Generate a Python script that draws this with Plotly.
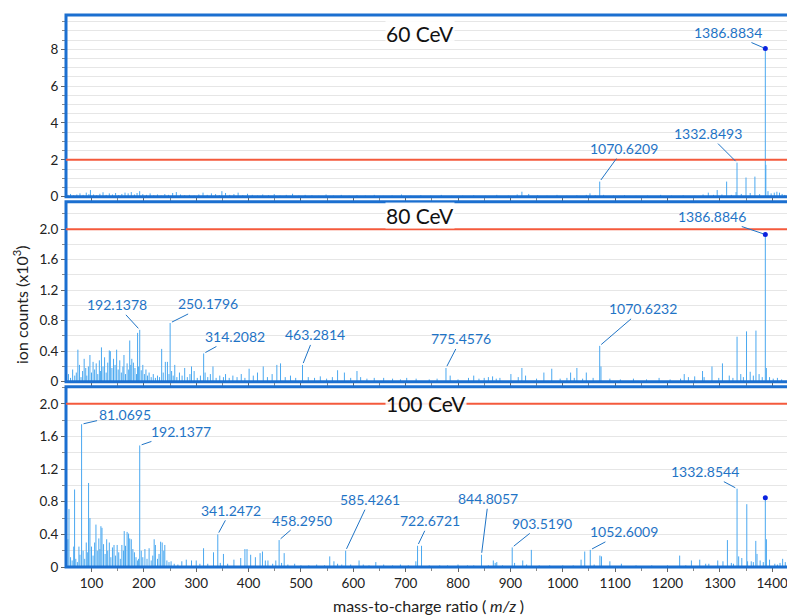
import plotly.graph_objects as go

# ---------------- data ----------------
mz_60 = [
    55, 60, 66, 72, 78, 84, 90, 95, 98, 104,
    110, 116, 122, 128, 134, 140, 146, 152, 158, 164,
    170, 176, 182, 187, 192, 198, 205, 212, 219, 226,
    233, 240, 247, 255, 262, 270, 278, 287, 296, 305,
    313, 321, 329, 337, 344, 349, 356, 364, 372, 380,
    389, 398, 407, 417, 427, 438, 449, 460, 472, 484,
    496, 508, 521, 534, 548, 562, 577, 592, 607, 623,
    640, 657, 674, 692, 710, 729, 748, 768, 788, 809,
    830, 852, 874, 896, 913, 922, 935, 952, 970, 989,
    1008, 1027, 1045, 1052, 1062, 1070.6, 1078, 1097, 1118, 1140,
    1162, 1187, 1208, 1230, 1252, 1268, 1278, 1288, 1295, 1304,
    1313, 1322, 1331, 1332.8, 1341, 1350, 1358, 1367, 1376, 1386.9,
    1387.9, 1392, 1398, 1404, 1409, 1414, 1419, 1424]
int_60 = [
    0.10, 0.15, 0.08, 0.12, 0.18, 0.10, 0.22, 0.14, 0.36, 0.12,
    0.08, 0.16, 0.24, 0.10, 0.18, 0.12, 0.20, 0.09, 0.15, 0.22,
    0.18, 0.25, 0.12, 0.20, 0.30, 0.14, 0.10, 0.18, 0.08, 0.12,
    0.06, 0.14, 0.10, 0.20, 0.25, 0.12, 0.08, 0.10, 0.06, 0.12,
    0.22, 0.10, 0.18, 0.14, 0.08, 0.30, 0.20, 0.10, 0.14, 0.22,
    0.08, 0.16, 0.10, 0.06, 0.12, 0.08, 0.14, 0.06, 0.10, 0.16,
    0.06, 0.10, 0.08, 0.05, 0.12, 0.06, 0.10, 0.05, 0.08, 0.06,
    0.10, 0.05, 0.07, 0.12, 0.05, 0.08, 0.06, 0.10, 0.05, 0.06,
    0.08, 0.05, 0.10, 0.06, 0.12, 0.27, 0.15, 0.08, 0.06, 0.10,
    0.05, 0.08, 0.10, 0.18, 0.08, 0.82, 0.10, 0.06, 0.08, 0.05,
    0.06, 0.10, 0.06, 0.08, 0.05, 0.12, 0.22, 0.10, 0.36, 0.12,
    0.82, 0.10, 0.25, 1.85, 0.15, 1.04, 0.20, 1.09, 0.14, 8.04,
    1.73, 0.30, 0.18, 0.22, 0.27, 0.22, 0.15, 0.10]

mz_80 = [
    56, 60, 64, 68, 71, 74, 77, 80, 83, 86,
    89, 91, 94, 97, 100, 103, 106, 109, 112, 115,
    117, 119, 122, 125, 128, 131, 134, 136, 139, 142,
    145, 148, 151, 154, 157, 160, 162, 165, 168, 171,
    173, 175, 177, 180, 183, 186, 188, 190, 192.1, 195,
    198, 201, 204, 207, 210, 214, 218, 222, 226, 230,
    234, 237, 241, 245, 248, 250.2, 253, 256, 259, 263,
    268, 273, 278, 283, 288, 291, 296, 302, 308, 314.2,
    317, 322, 327, 332, 338, 345, 352, 356, 363, 370,
    378, 386, 393, 401, 409, 417, 428, 436, 445, 454,
    461, 470, 480, 490, 503, 514, 526, 537, 549, 560,
    570, 583, 595, 607, 614, 626, 640, 658, 675, 690,
    702, 720, 745, 760, 777, 785, 800, 820, 830, 840,
    850, 858, 866, 873, 880, 901, 915, 922, 929, 950,
    964, 979, 995, 1008, 1015, 1022, 1027, 1038, 1045, 1058,
    1070.6, 1073, 1090, 1110, 1135, 1160, 1184, 1205, 1225, 1232,
    1240, 1252, 1267, 1270, 1285, 1298, 1305, 1318, 1325, 1332.9,
    1340, 1345, 1351, 1358, 1364, 1369, 1375, 1381, 1386.9, 1388.9,
    1395, 1402, 1410, 1418]
int_80 = [
    0.10, 0.05, 0.16, 0.08, 0.12, 0.42, 0.22, 0.06, 0.14, 0.30,
    0.18, 0.08, 0.20, 0.35, 0.12, 0.26, 0.16, 0.24, 0.10, 0.28,
    0.14, 0.45, 0.20, 0.32, 0.12, 0.25, 0.41, 0.40, 0.18, 0.30,
    0.22, 0.42, 0.16, 0.28, 0.12, 0.20, 0.35, 0.10, 0.24, 0.16,
    0.54, 0.22, 0.30, 0.25, 0.18, 0.10, 0.64, 0.20, 0.68, 0.15,
    0.22, 0.10, 0.16, 0.08, 0.12, 0.06, 0.10, 0.05, 0.08, 0.06,
    0.43, 0.12, 0.26, 0.26, 0.10, 0.77, 0.14, 0.08, 0.22, 0.06,
    0.12, 0.08, 0.18, 0.06, 0.10, 0.20, 0.14, 0.05, 0.08, 0.37,
    0.12, 0.06, 0.10, 0.20, 0.05, 0.08, 0.06, 0.10, 0.05, 0.08,
    0.06, 0.10, 0.05, 0.17, 0.08, 0.12, 0.20, 0.06, 0.10, 0.22,
    0.24, 0.06, 0.08, 0.05, 0.22, 0.06, 0.05, 0.07, 0.04, 0.06,
    0.15, 0.12, 0.05, 0.14, 0.06, 0.04, 0.05, 0.05, 0.04, 0.03,
    0.05, 0.04, 0.03, 0.04, 0.18, 0.08, 0.03, 0.05, 0.08, 0.04,
    0.05, 0.06, 0.07, 0.04, 0.05, 0.10, 0.06, 0.18, 0.08, 0.04,
    0.12, 0.17, 0.04, 0.05, 0.12, 0.05, 0.18, 0.04, 0.12, 0.05,
    0.47, 0.20, 0.04, 0.03, 0.04, 0.03, 0.05, 0.03, 0.04, 0.10,
    0.06, 0.07, 0.14, 0.06, 0.20, 0.05, 0.24, 0.08, 0.05, 0.59,
    0.10, 0.06, 0.66, 0.13, 0.08, 0.67, 0.10, 0.06, 1.93, 0.18,
    0.06, 0.04, 0.05, 0.03]

mz_100 = [
    55, 57, 60, 63, 66, 67.7, 70, 73, 76, 78,
    81.07, 84, 87, 90, 92, 94.4, 97, 100, 103, 106,
    108.5, 111, 114, 116, 118, 120, 123, 126, 129, 131,
    134, 137, 140, 143, 146, 149, 152, 155, 158, 161,
    162.5, 165, 168, 170.8, 173, 176, 179, 182, 185, 188,
    190, 192.1, 195, 198, 202, 206, 210, 214, 217, 219.7,
    222, 226, 229, 232, 235, 238, 240, 244, 248, 252,
    258, 265, 272.5, 281, 291, 300, 307, 314, 322, 333,
    341.2, 346, 352, 360, 372, 385, 393, 397, 404, 413,
    422, 426.5, 432, 437, 446, 452, 458.3, 463, 468, 475,
    488, 500, 515, 530, 545, 555, 563, 570, 578, 585.4,
    595, 611, 619, 630, 643, 658, 675, 690, 705, 719.5,
    722.7, 730.3, 745, 765, 780, 800, 818, 830, 844.8, 858,
    867.4, 871, 874, 885, 903.5, 908, 923.6, 931, 940, 955,
    975, 1000, 1020, 1035, 1042, 1052.6, 1060, 1071, 1074, 1090,
    1112, 1140, 1170, 1200, 1223.3, 1235, 1245.7, 1261.6, 1273, 1279,
    1296, 1306, 1314.5, 1322, 1326, 1332.9, 1336, 1342, 1351.5, 1353,
    1360, 1364, 1368.7, 1371, 1377, 1383, 1386.9, 1389, 1395, 1405,
    1410, 1415, 1420, 1425]
int_100 = [
    0.34, 0.71, 0.12, 0.08, 0.25, 0.95, 0.10, 0.06, 0.25, 0.15,
    1.75, 0.20, 0.10, 0.30, 0.18, 1.03, 0.60, 0.25, 0.14, 0.30,
    0.52, 0.20, 0.35, 0.22, 0.50, 0.48, 0.28, 0.16, 0.34, 0.20,
    0.30, 0.12, 0.24, 0.27, 0.14, 0.27, 0.18, 0.10, 0.27, 0.20,
    0.44, 0.26, 0.43, 0.41, 0.35, 0.34, 0.22, 0.18, 0.12, 0.08,
    0.10, 1.49, 0.20, 0.12, 0.22, 0.10, 0.23, 0.08, 0.14, 0.34,
    0.27, 0.10, 0.16, 0.31, 0.30, 0.20, 0.27, 0.08, 0.06, 0.07,
    0.04, 0.03, 0.07, 0.09, 0.08, 0.08, 0.04, 0.23, 0.04, 0.18,
    0.40, 0.05, 0.16, 0.04, 0.09, 0.11, 0.22, 0.22, 0.15, 0.12,
    0.17, 0.19, 0.08, 0.08, 0.04, 0.08, 0.33, 0.05, 0.17, 0.03,
    0.04, 0.02, 0.02, 0.03, 0.02, 0.13, 0.07, 0.04, 0.03, 0.20,
    0.03, 0.08, 0.03, 0.02, 0.06, 0.03, 0.02, 0.03, 0.02, 0.07,
    0.26, 0.26, 0.02, 0.02, 0.02, 0.03, 0.02, 0.02, 0.15, 0.02,
    0.08, 0.05, 0.06, 0.02, 0.24, 0.05, 0.08, 0.03, 0.21, 0.02,
    0.02, 0.02, 0.02, 0.09, 0.19, 0.21, 0.03, 0.14, 0.13, 0.07,
    0.04, 0.02, 0.02, 0.02, 0.14, 0.02, 0.08, 0.09, 0.04, 0.04,
    0.08, 0.07, 0.33, 0.05, 0.04, 0.96, 0.13, 0.11, 0.77, 0.07,
    0.07, 0.06, 0.32, 0.16, 0.08, 0.06, 0.85, 0.34, 0.09, 0.04,
    0.03, 0.05, 0.10, 0.06]

# labelled peaks: (text, m/z of the marked line)
labels_60 = [("1386.8834", 1386.9), ("1332.8493", 1332.8), ("1070.6209", 1070.6)]
labels_80 = [("192.1378", 192.1), ("250.1796", 250.2), ("314.2082", 314.2),
             ("463.2814", 503), ("775.4576", 777), ("1070.6232", 1070.6),
             ("1386.8846", 1386.9)]
labels_100 = [("81.0695", 81.07), ("192.1377", 192.1), ("341.2472", 341.2),
              ("458.2950", 458.3), ("585.4261", 585.4), ("722.6721", 722.7),
              ("844.8057", 844.8), ("903.5190", 903.5), ("1052.6009", 1052.6),
              ("1332.8544", 1332.9)]
precursor_mz = 1386.9
threshold = 2.0
panel_titles = ["60 CeV", "80 CeV", "100 CeV"]

xtick_vals = [100, 200, 300, 400, 500, 600, 700, 800, 900, 1000, 1100, 1200, 1300, 1400]
ytick_60 = [0, 2, 4, 6, 8]
ytick_60_text = ["0", "2", "4", "6", "8"]
ytick_hi = [0, 0.4, 0.8, 1.2, 1.6, 2.0]
ytick_hi_text = ["0", "0.4", "0.8", "1.2", "1.6", "2.0"]

# ---------------- style / layout ----------------
W, H = 787, 615
ML, MR, MT, MB = 66, 0, 15, 48
PW, PH = W - ML - MR, H - MT - MB
FONT = "Lato, 'Open Sans', sans-serif"
PEAK_COLOR = "#4aa8f0"
LABEL_COLOR = "#1f74c6"
FRAME_COLOR = "#1b6fd0"
RED = "#f45a3c"
GRID = "#e6e6e6"

def py2paper(py):
    return (MT + PH - py) / PH

def px2paper(px):
    return (px - ML) / PW

# panel pixel geometry: (y of zero line, y of top)
geom = {
    "top": (196.7, 15.0),
    "mid": (381.7, 201.7),
    "bot": (567.0, 386.7),
}
yranges = {"top": [0, 9.86], "mid": [0, 2.36], "bot": [0, 2.21]}

panels = [
    ("top", "x3", "y3", mz_60, int_60, labels_60, panel_titles[0]),
    ("mid", "x2", "y2", mz_80, int_80, labels_80, panel_titles[1]),
    ("bot", "x", "y", mz_100, int_100, labels_100, panel_titles[2]),
]

# label offsets (pixels) and title positions
offsets = {
    "top": {"1386.8834": (-37, -16), "1332.8493": (-29, -29), "1070.6209": (24, -33)},
    "mid": {"192.1378": (-23, -25), "250.1796": (38, -19), "314.2082": (31, -17),
            "463.2814": (12, -30), "775.4576": (15, -29), "1070.6232": (43, -37),
            "1386.8846": (-53, -18)},
    "bot": {"81.0695": (43, -10), "192.1377": (41, -14), "341.2472": (13, -24),
            "458.2950": (23, -20), "585.4261": (24, -51), "722.6721": (12, -25),
            "844.8057": (7, -56), "903.5190": (30, -24), "1052.6009": (34, -18),
            "1332.8544": (-32, -17)},
}
title_pos = {"top": (385, 33), "mid": (385, 216), "bot": (385, 403)}

fig = go.Figure()
annotations = []
shapes = []
layout_axes = {}

for key, xa, ya, mzs, ints, labs, title in panels:
    xs, ys = [], []
    for m, v in zip(mzs, ints):
        xs += [m, m, None]
        ys += [0, v, None]
    fig.add_trace(go.Scatter(x=xs, y=ys, mode="lines", xaxis=xa, yaxis=ya,
                             line=dict(color=PEAK_COLOR, width=1),
                             hoverinfo="skip", showlegend=False))
    pv = ints[mzs.index(precursor_mz)]
    fig.add_trace(go.Scatter(x=[precursor_mz], y=[pv], mode="markers", xaxis=xa, yaxis=ya,
                             marker=dict(color="#0a22e0", size=5), showlegend=False))
    for text, m in labs:
        v = ints[mzs.index(m)] if m in mzs else 0
        ax, ay = offsets[key][text]
        annotations.append(dict(x=m, y=v, xref=xa, yref=ya, text=text, showarrow=True,
                                arrowhead=0, arrowwidth=1, arrowcolor=LABEL_COLOR,
                                ax=ax, ay=ay, standoff=2,
                                font=dict(family=FONT, size=14, color=LABEL_COLOR)))
    y0px, y1px = geom[key]
    d0, d1 = py2paper(y0px), py2paper(y1px)
    # frame
    shapes.append(dict(type="rect", xref="paper", yref="paper", x0=0, x1=1.05,
                       y0=d0, y1=d1,
                       line=dict(color=FRAME_COLOR, width=3), layer="above"))
    # threshold line
    shapes.append(dict(type="line", xref="paper", yref=ya, x0=0, x1=1.05,
                       y0=threshold, y1=threshold,
                       line=dict(color=RED, width=2), layer="above"))
    tx, ty = title_pos[key]
    annotations.append(dict(x=px2paper(tx), y=py2paper(ty), xref="paper", yref="paper",
                            xanchor="left", yanchor="middle", text=title, showarrow=False,
                            bgcolor="rgba(255,255,255,0.85)", borderpad=0,
                            font=dict(family=FONT, size=21, color="#111")))
    axname_x = "xaxis" + ("" if xa == "x" else xa[1:])
    axname_y = "yaxis" + ("" if ya == "y" else ya[1:])
    layout_axes[axname_x] = dict(
        domain=[0, 1], anchor=ya, range=[51.3, 1428.3], tickvals=xtick_vals,
        showticklabels=(key == "bot"), ticks="outside", ticklen=4, tickcolor="#666",
        ticklabeloverflow="allow",
        showgrid=False, zeroline=False, showline=False,
        minor=dict(dtick=50, tick0=0, ticks="outside", ticklen=3, tickcolor="#888"),
        tickfont=dict(family=FONT, size=13.5, color="#222"))
    if key == "top":
        tv, tt, mdt = ytick_60, ytick_60_text, 0.5
    else:
        tv, tt, mdt = ytick_hi, ytick_hi_text, 0.2
    layout_axes[axname_y] = dict(
        domain=[d0, d1], anchor=xa, range=yranges[key], tickvals=tv, ticktext=tt,
        ticks="outside", ticklen=4, tickcolor="#666", showgrid=True, gridcolor=GRID,
        gridwidth=1, zeroline=False, showline=False,
        minor=dict(dtick=mdt, tick0=0, ticks="outside", ticklen=3, tickcolor="#888",
                   showgrid=True, gridcolor=GRID, gridwidth=1),
        tickfont=dict(family=FONT, size=13.5, color="#222"))

annotations.append(dict(x=px2paper(428), y=py2paper(605), xref="paper", yref="paper",
                        text="mass-to-charge ratio (<i> m/z </i>)", showarrow=False,
                        xanchor="center", yanchor="middle",
                        font=dict(family=FONT, size=16, color="#222")))
annotations.append(dict(x=px2paper(20), y=py2paper(305), xref="paper", yref="paper",
                        text="ion counts (x10<sup>3</sup>)", showarrow=False, textangle=-90,
                        xanchor="center", yanchor="middle",
                        font=dict(family=FONT, size=16, color="#222")))

fig.update_layout(width=W, height=H, margin=dict(l=ML, r=MR, t=MT, b=MB),
                  paper_bgcolor="white", plot_bgcolor="white", showlegend=False,
                  annotations=annotations, shapes=shapes, **layout_axes)

fig.write_html("out.html", config={"displayModeBar": False})

# remove the default page margin so the figure starts at the window's corner
with open("out.html", "r", encoding="utf-8") as f:
    html = f.read()
html = html.replace("<head>", "<head><style>html,body{margin:0;padding:0;overflow:hidden;}</style>", 1)
with open("out.html", "w", encoding="utf-8") as f:
    f.write(html)
